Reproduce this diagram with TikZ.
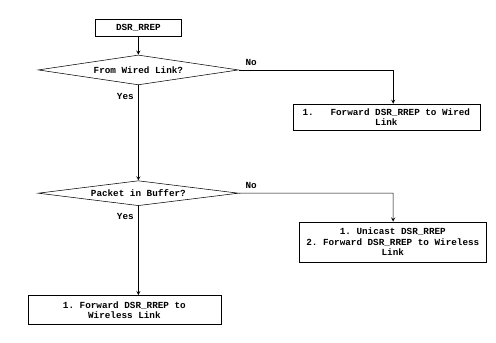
\documentclass[tikz,border=0pt]{standalone}
\usepackage{xcolor}
\usepackage{fontspec}
\setmonofont{Liberation Mono}
\usepackage{tikz}
\usetikzlibrary{shapes.geometric, arrows}
\tikzstyle{proc} = [rectangle, minimum width=2.28cm, minimum height=0.45cm, text centered, draw=black, fill=white, font=\ttfamily\bfseries\fontsize{7}{8}\selectfont]
\tikzstyle{wide} = [rectangle, minimum width=4.95cm, align=center, draw=black, fill=white, font=\ttfamily\bfseries\fontsize{7}{8}\selectfont]
\tikzstyle{decision} = [diamond, aspect=6.7, inner sep=0pt, minimum width=5.3cm, minimum height=0.79cm, text centered, draw=black, fill=white, font=\ttfamily\bfseries\fontsize{7}{8}\selectfont]
\tikzstyle{lbl} = [font=\ttfamily\bfseries\fontsize{7}{8}\selectfont]
\tikzstyle{arrow} = [thin,->,>=stealth]

\begin{document}
\begin{tikzpicture}[node distance=1.11cm]
\useasboundingbox (0,0) rectangle (13.12,-9.05);

\node (rrep) [proc] at (3.66,-0.74) {DSR\_RREP};
\node (wired) [decision, below of=rrep] {From Wired Link?};
\node (buf) [decision, below of=wired, yshift=-2.15cm, minimum height=0.66cm] {Packet in Buffer?};
\node (fwdw) [wide, right of=wired, xshift=5.45cm, yshift=-1.25cm, minimum height=0.66cm] {1.\ \ \ Forward DSR\_RREP to Wired\\Link};
\node (uni) [wide, right of=buf, xshift=5.62cm, yshift=-1.29cm, minimum height=1.06cm] {1. Unicast DSR\_RREP\\2. Forward DSR\_RREP to Wireless\\Link};
\node (fwdl) [wide, below of=buf, yshift=-1.98cm, xshift=-0.37cm, minimum width=5.1cm, minimum height=0.77cm] {1. Forward DSR\_RREP to\\Wireless Link};

\coordinate (c1) at (10.4,-1.85);
\coordinate (c2) at (10.4,-5.11);

\draw [arrow] (rrep) -- (wired);
\draw [arrow] (wired) -- node [lbl, left, pos=0.12] {Yes} (buf);
\draw [arrow] (wired.east) -- node [lbl, above, pos=0.08] {No} (c1) -- (c1 |- fwdw.north);
\draw [arrow] (buf.east) -- node [lbl, above, pos=0.08] {No} (c2) -- (c2 |- uni.north);
\draw [arrow] (buf.south) -- node [lbl, left, pos=0.12] {Yes} (buf.south |- fwdl.north);

\end{tikzpicture}
\end{document}
